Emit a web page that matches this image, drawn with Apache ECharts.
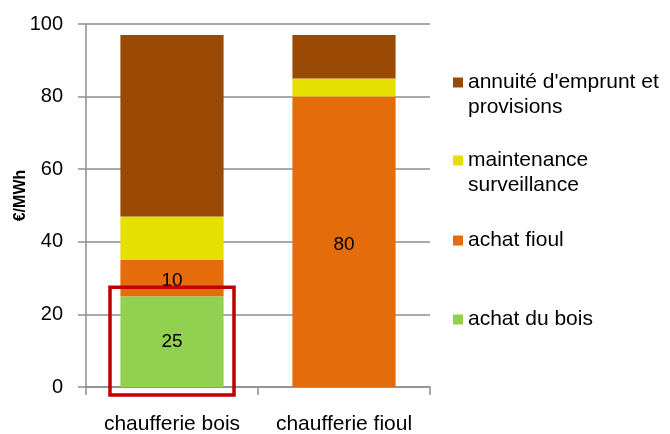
<!DOCTYPE html>
<html>
<head>
<meta charset="utf-8">
<script src="https://cdn.jsdelivr.net/npm/echarts@6/dist/echarts.min.js"></script>
<style>
  html, body { margin: 0; padding: 0; background: #fff; }
  #chart { width: 670px; height: 434px; }
</style>
</head>
<body>
<div id="chart"></div>
<script>
// data
var categories = ['chaufferie bois', 'chaufferie fioul'];
var achatBois = [25, 0];
var achatFioul = [10, 80];
var maintenance = [12, 5];
var annuite = [50, 12];
var yTicks = [0, 20, 40, 60, 80, 100];

var FONT = '"Liberation Sans", Arial, sans-serif';

var myChart = echarts.init(document.getElementById('chart'));

// one legend per entry so each can sit where Excel put it;
// two-line names get an empty first line so the square lines up with line one
function legendFor(name, top, twoLines) {
    return {
        orient: 'vertical',
        left: 453,
        top: top,
        padding: 0,
        icon: 'rect',
        itemWidth: 10,
        itemHeight: 10,
        selectedMode: false,
        formatter: function (n) { return twoLines ? '\n' + n : n; },
        textStyle: { fontFamily: FONT, fontSize: 21, color: '#000', lineHeight: 25 },
        data: [name]
    };
}

function labelOn(v) { return v > 0 ? String(v) : ''; }

var option = {
    animation: false,
    textStyle: { fontFamily: FONT },
    grid: { left: 86, right: 240, top: 24, bottom: 47, outerBoundsMode: 'none', containLabel: false },
    legend: [
        legendFor("annuité d'emprunt et\nprovisions", 45, true),
        legendFor('maintenance\nsurveillance', 123, true),
        legendFor('achat fioul', 228, false),
        legendFor('achat du bois', 307, false)
    ],
    xAxis: {
        type: 'category',
        data: categories,
        axisLine: { lineStyle: { color: '#8e8e8e', width: 1.5 } },
        axisTick: { show: true, length: 8, lineStyle: { color: '#8e8e8e', width: 1.5 } },
        axisLabel: { color: '#000', fontSize: 21, fontFamily: FONT, margin: 27,
                     interval: 0, hideOverlap: false }
    },
    yAxis: {
        type: 'value',
        min: yTicks[0],
        max: yTicks[yTicks.length - 1],
        interval: 20,
        name: '€/MWh',
        nameLocation: 'middle',
        nameGap: 57,
        nameMoveOverlap: false,
        nameTextStyle: { fontFamily: FONT, fontSize: 16, fontWeight: 'bold', color: '#000',
                         padding: [0, 0, 0, 20] },
        axisLine: { show: true, lineStyle: { color: '#8e8e8e', width: 1.5 } },
        axisTick: { show: true, inside: false, length: 8, lineStyle: { color: '#8e8e8e', width: 1.5 } },
        axisLabel: { color: '#000', fontSize: 20, fontFamily: FONT, margin: 23 },
        splitLine: { lineStyle: { color: '#8e8e8e', width: 1.5 } }
    },
    series: [
        {
            name: 'achat du bois', type: 'bar', stack: 'tot', data: achatBois,
            barWidth: '60%',
            itemStyle: { color: '#92D050' },
            label: { show: true, position: 'inside', color: '#000', fontSize: 19, fontFamily: FONT,
                     formatter: function (p) { return labelOn(p.value); } }
        },
        {
            name: 'achat fioul', type: 'bar', stack: 'tot', data: achatFioul,
            itemStyle: { color: '#E46C0A' },
            label: { show: true, position: 'inside', color: '#000', fontSize: 19, fontFamily: FONT,
                     offset: [0, 3],
                     formatter: function (p) { return labelOn(p.value); } }
        },
        {
            name: 'maintenance\nsurveillance', type: 'bar', stack: 'tot', data: maintenance,
            itemStyle: { color: '#E6E000' }
        },
        {
            name: "annuité d'emprunt et\nprovisions", type: 'bar', stack: 'tot', data: annuite,
            itemStyle: { color: '#9A4A05' }
        }
    ]
};

myChart.setOption(option);

// red frame around the wood purchase segment
var cx = myChart.convertToPixel({ xAxisIndex: 0 }, categories[0]);
var yTop = myChart.convertToPixel({ yAxisIndex: 0 }, achatBois[0] + 2.5);
var yBot = myChart.convertToPixel({ yAxisIndex: 0 }, -2.2);
myChart.setOption({
    graphic: [{
        type: 'rect',
        shape: { x: cx - 62, y: yTop, width: 124, height: yBot - yTop },
        style: { fill: null, stroke: '#C00000', lineWidth: 3.5 },
        z: 100
    }]
});
</script>
</body>
</html>
